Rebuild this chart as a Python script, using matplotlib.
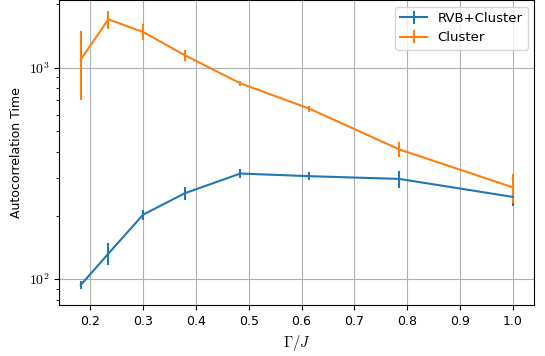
import math
import matplotlib
matplotlib.use("Agg")
import matplotlib.pyplot as plt
import matplotlib.ticker as mt

plt.rcParams["mathtext.fontset"] = "cm"
plt.rcParams["font.size"] = 9

gamma = [0.182, 0.234, 0.300, 0.379, 0.484, 0.615, 0.785, 1.000]

rvb_tau = [94, 132, 202, 255, 316, 307, 298, 245]
rvb_err = [4.5, 15.5, 11, 17, 16, 13, 28, 24]

cluster_tau = [1095, 1694, 1475, 1145, 844, 640, 411, 272]
cluster_err = [395, 170, 128, 65, 23, 20, 33, 42]

fig = plt.figure(figsize=(5.45, 3.56), dpi=100)
ax = fig.add_axes([0.1088, 0.1433, 0.8716, 0.8567])

ax.errorbar(gamma, rvb_tau, yerr=rvb_err, color="C0", lw=1.5, label="RVB+Cluster")
ax.errorbar(gamma, cluster_tau, yerr=cluster_err, color="C1", lw=1.5, label="Cluster")

ax.set_yscale("log")
ax.set_ylim(75.5, 2091)
ax.yaxis.set_major_formatter(mt.FuncFormatter(lambda v, p: r"$10^{%d}$" % round(math.log10(v))))
ax.yaxis.set_minor_formatter(mt.NullFormatter())
ax.set_xticks([0.2, 0.3, 0.4, 0.5, 0.6, 0.7, 0.8, 0.9, 1.0])
ax.tick_params(axis="y", labelsize=10)

ax.grid(True, color="#b0b0b0", lw=0.8)
ax.set_xlabel(r"$\Gamma/J$", fontsize=10.5)
ax.set_ylabel("Autocorrelation Time")
ax.legend(loc="upper right", fontsize=9.5)

plt.savefig("out.png", dpi=100)
